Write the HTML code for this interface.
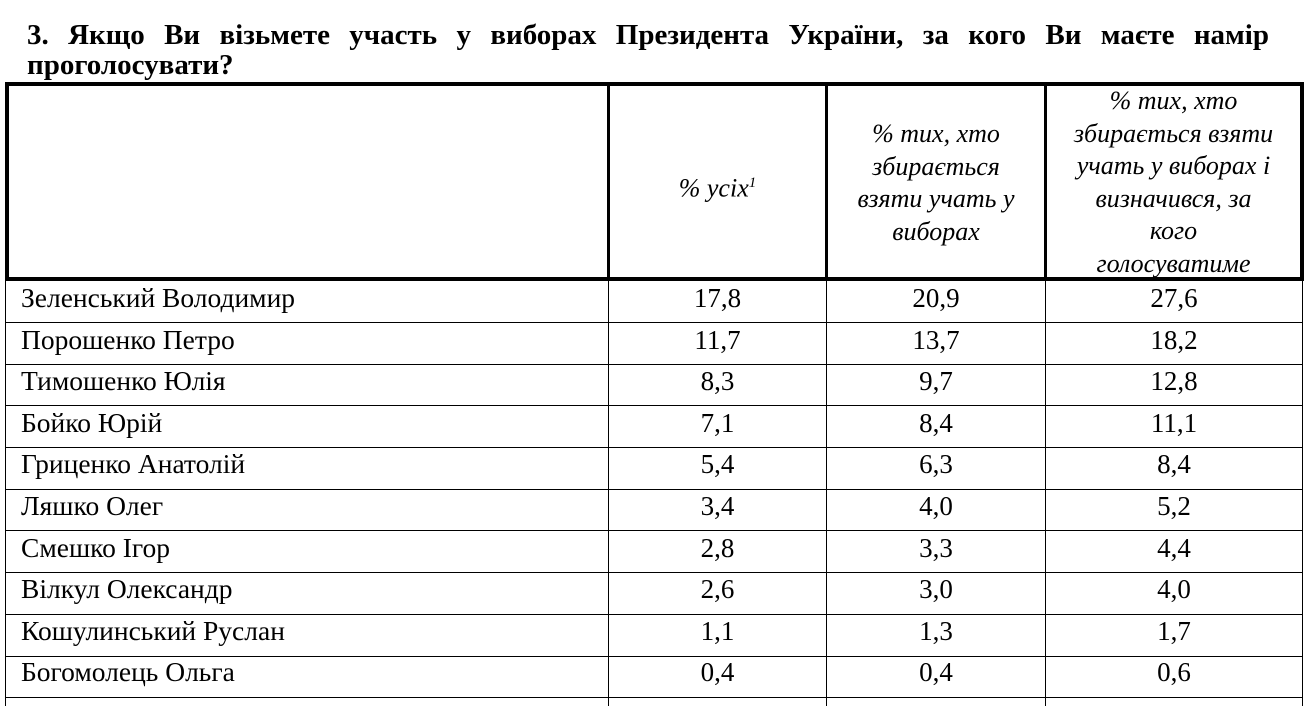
<!DOCTYPE html>
<html><head><meta charset="utf-8"><style>
body{margin:0;width:1305px;height:706px;overflow:hidden;background:#fff;font-family:"Liberation Serif",serif;color:#000;position:relative}
.t{position:absolute;left:27px;width:1242px;font-weight:bold;font-size:29px;line-height:30px;text-align:justify;text-align-last:justify;white-space:nowrap}
.h{position:absolute;background:#000}
.n{position:absolute;left:21px;font-size:27.5px;line-height:41.6px;white-space:nowrap}
.c{position:absolute;font-size:27px;line-height:41.6px;text-align:center}
.hd{position:absolute;font-size:26px;font-style:italic;line-height:32.5px;text-align:center}
</style></head><body>
<div class="t" style="top:20px">3. Якщо Ви візьмете участь у виборах Президента України, за кого Ви маєте намір</div>
<div class="t" style="top:50px;text-align-last:left">проголосувати?</div>
<div class="h" style="left:5px;top:82px;width:1299px;height:4px"></div>
<div class="h" style="left:5px;top:277px;width:1299px;height:4px"></div>
<div class="h" style="left:5px;top:82px;width:4px;height:199px"></div>
<div class="h" style="left:607px;top:82px;width:3px;height:199px"></div>
<div class="h" style="left:825px;top:82px;width:3px;height:199px"></div>
<div class="h" style="left:1044px;top:82px;width:3px;height:199px"></div>
<div class="h" style="left:1300px;top:82px;width:4px;height:199px"></div>
<div class="h" style="left:5px;top:281px;width:1px;height:425px"></div>
<div class="h" style="left:608px;top:281px;width:1px;height:425px"></div>
<div class="h" style="left:826px;top:281px;width:1px;height:425px"></div>
<div class="h" style="left:1045px;top:281px;width:1px;height:425px"></div>
<div class="h" style="left:1302px;top:281px;width:1px;height:425px"></div>
<div class="h" style="left:5px;top:322px;width:1298px;height:1px"></div>
<div class="h" style="left:5px;top:364px;width:1298px;height:1px"></div>
<div class="h" style="left:5px;top:405px;width:1298px;height:1px"></div>
<div class="h" style="left:5px;top:447px;width:1298px;height:1px"></div>
<div class="h" style="left:5px;top:489px;width:1298px;height:1px"></div>
<div class="h" style="left:5px;top:530px;width:1298px;height:1px"></div>
<div class="h" style="left:5px;top:572px;width:1298px;height:1px"></div>
<div class="h" style="left:5px;top:614px;width:1298px;height:1px"></div>
<div class="h" style="left:5px;top:656px;width:1298px;height:1px"></div>
<div class="h" style="left:5px;top:697px;width:1298px;height:1px"></div>
<div class="hd" style="left:610px;width:215px;top:167px">% усіх<sup style="font-size:15px">1</sup></div>
<div class="hd" style="left:828px;width:216px;top:118px">% тих, хто<br>збирається<br>взяти учать у<br>виборах</div>
<div class="hd" style="left:1047px;width:253px;top:85px">% тих, хто<br>збирається взяти<br>учать у виборах і<br>визначився, за<br>кого<br>голосуватиме</div>
<div class="n" style="top:277px">Зеленський Володимир<br>Порошенко Петро<br>Тимошенко Юлія<br>Бойко Юрій<br>Гриценко Анатолій<br>Ляшко Олег<br>Смешко Ігор<br>Вілкул Олександр<br>Кошулинський Руслан<br>Богомолець Ольга</div>
<div class="c" style="left:609px;width:217px;top:278px">17,8<br>11,7<br>8,3<br>7,1<br>5,4<br>3,4<br>2,8<br>2,6<br>1,1<br>0,4</div>
<div class="c" style="left:827px;width:218px;top:278px">20,9<br>13,7<br>9,7<br>8,4<br>6,3<br>4,0<br>3,3<br>3,0<br>1,3<br>0,4</div>
<div class="c" style="left:1046px;width:256px;top:278px">27,6<br>18,2<br>12,8<br>11,1<br>8,4<br>5,2<br>4,4<br>4,0<br>1,7<br>0,6</div>
</body></html>
